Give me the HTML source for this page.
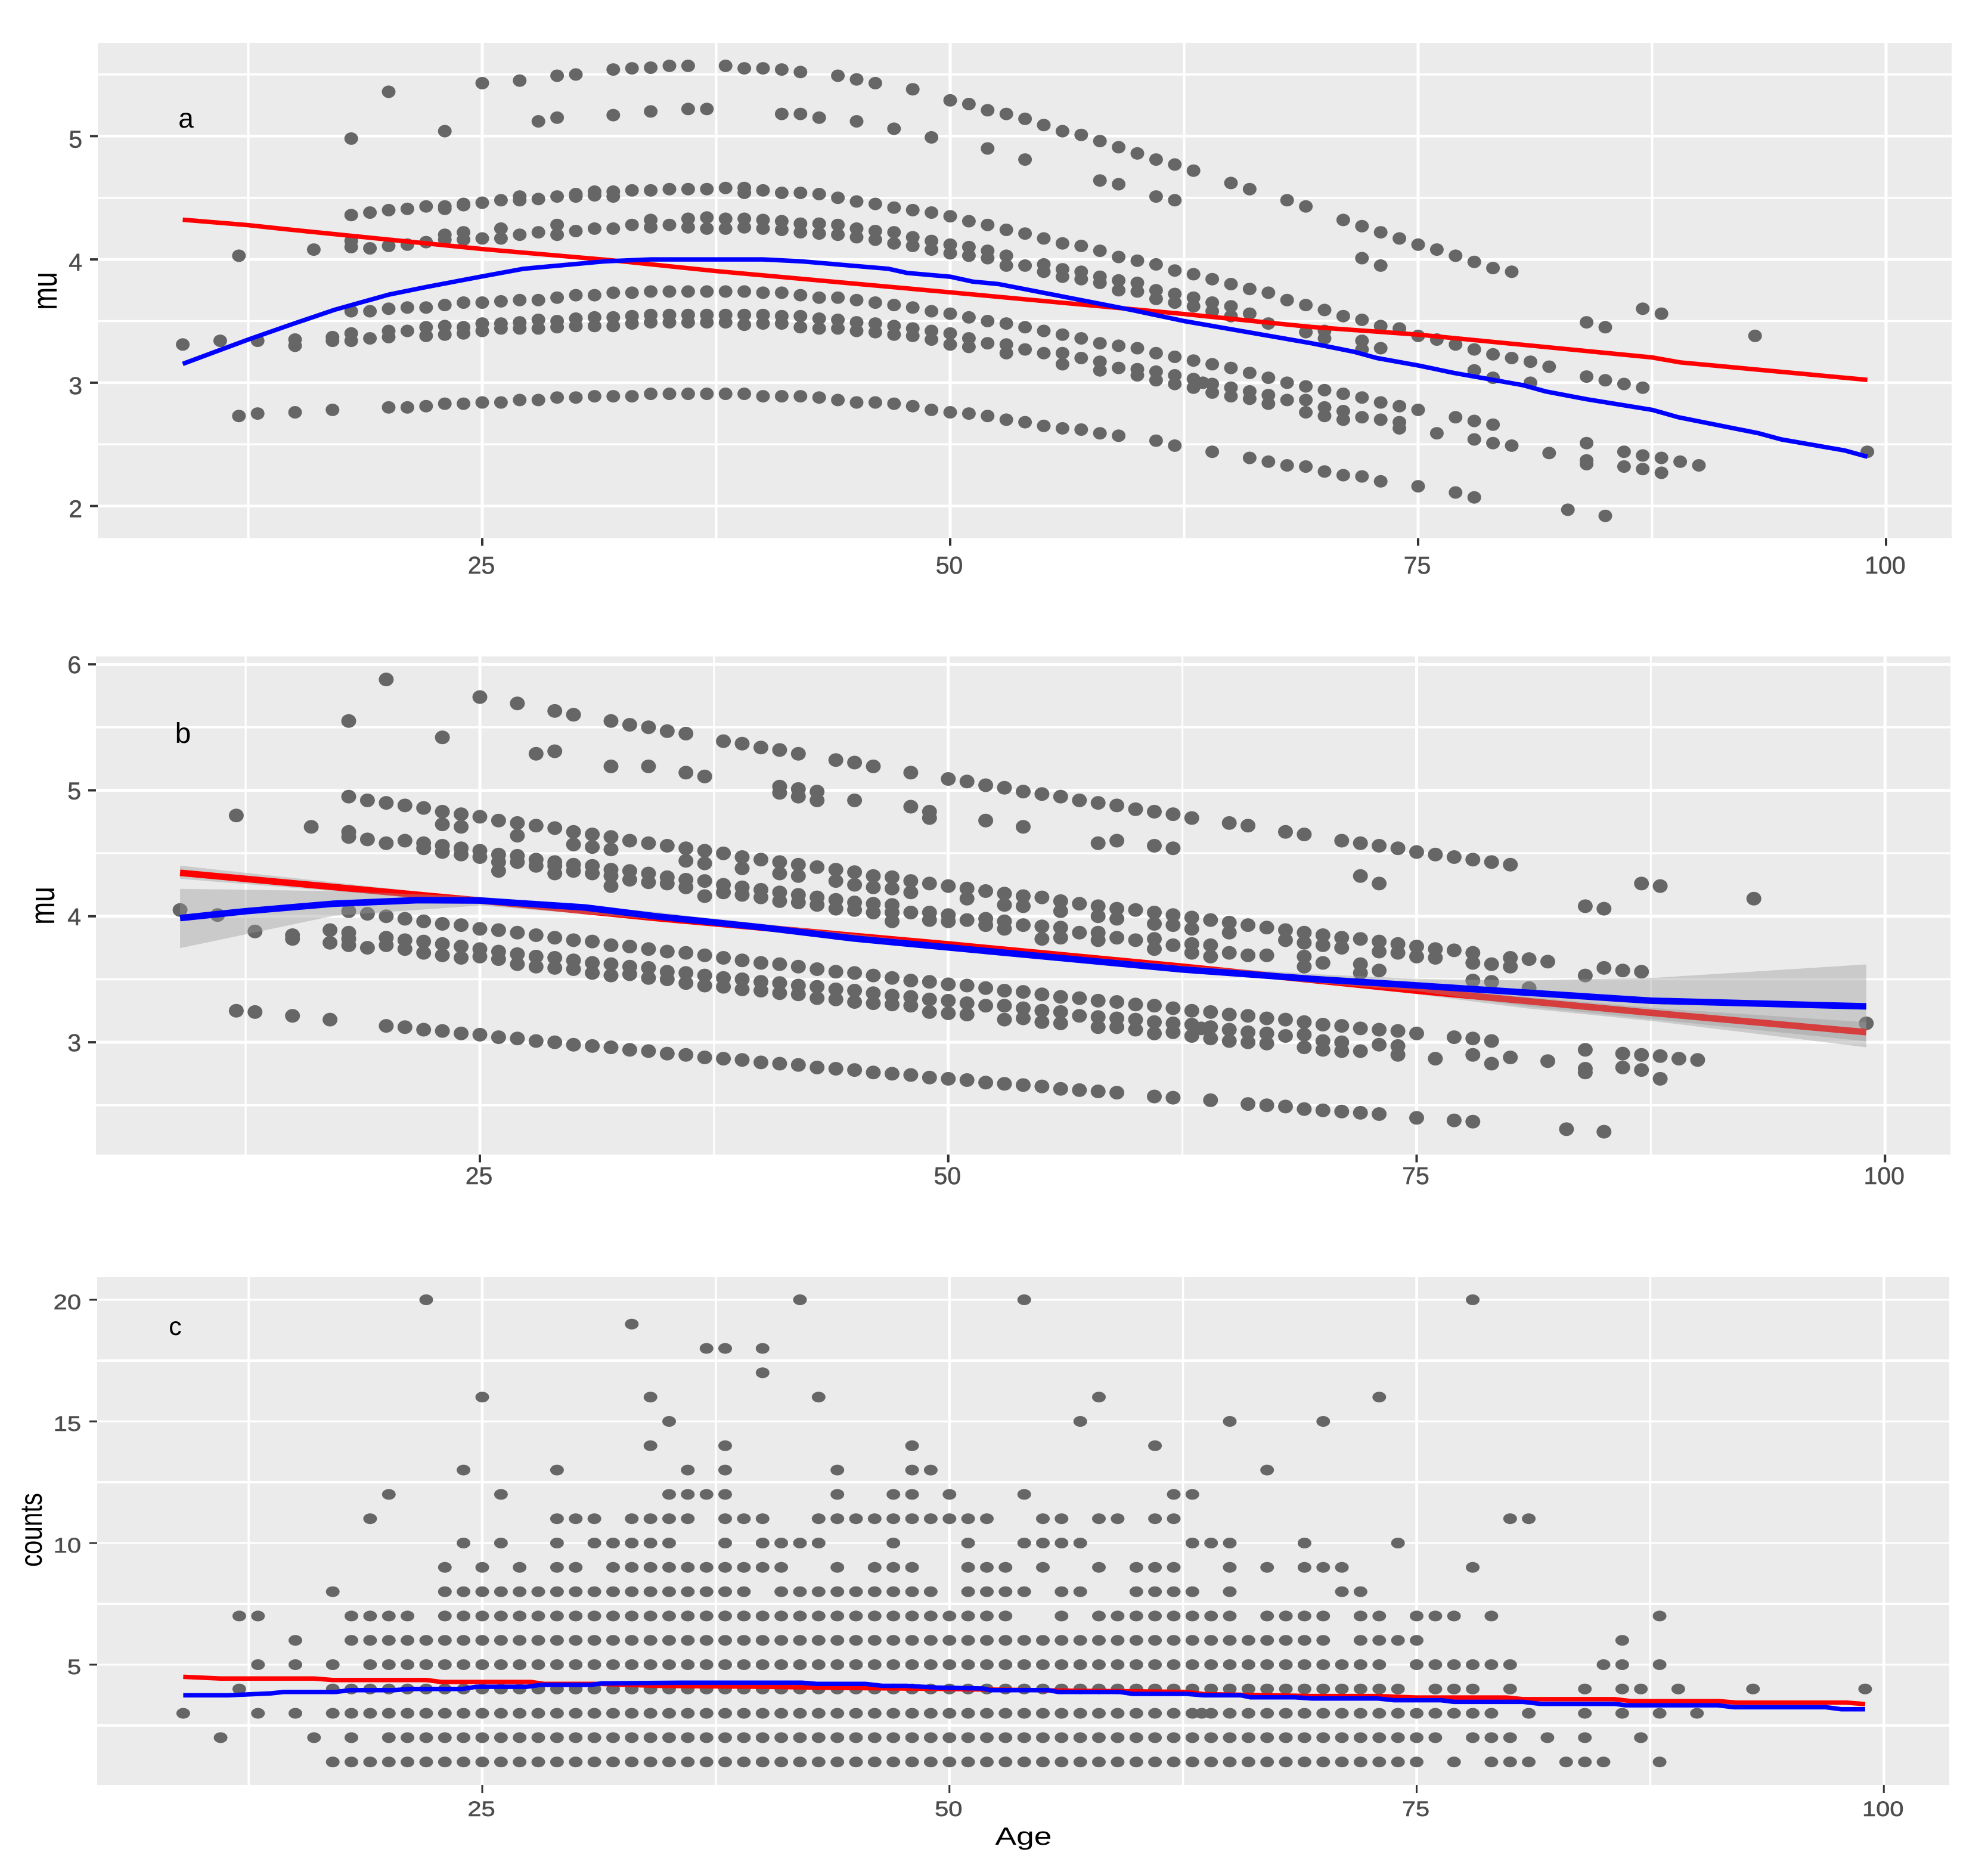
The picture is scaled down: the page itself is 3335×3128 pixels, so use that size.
<!DOCTYPE html>
<html lang="en">
<head>
<meta charset="utf-8">
<title>Age versus mu and counts, three panels</title>
<style>
html,body{margin:0;padding:0;background:#fff;}
svg{display:block;font-family:"Liberation Sans",sans-serif;}
</style>
</head>
<body>
<svg id="chart" xmlns="http://www.w3.org/2000/svg" width="3335" height="3128" viewBox="0 0 3335 3128">
  <rect x="0" y="0" width="3335" height="3128" fill="#ffffff"/>
  <g id="panel-a"></g>
  <g id="panel-b"></g>
  <g id="panel-c"></g>
  <text transform="translate(95,488) rotate(-90) scale(0.79,1)" text-anchor="middle" font-size="58" fill="#000">mu</text>
  <text transform="translate(91,1519) rotate(-90) scale(0.79,1)" text-anchor="middle" font-size="58" fill="#000">mu</text>
  <text transform="translate(70,2566) rotate(-90) scale(0.81,1)" text-anchor="middle" font-size="52" fill="#000">counts</text>
  <text transform="translate(1717,3094) scale(1.27,1)" text-anchor="middle" font-size="42" fill="#000">Age</text>
  <text x="312" y="214" text-anchor="middle" font-size="46" fill="#000">a</text>
  <text x="307" y="1246" text-anchor="middle" font-size="48" fill="#000">b</text>
  <text x="294" y="2239" text-anchor="middle" font-size="43" fill="#000">c</text>
</svg>
<script>
// ---------- shared axis values ----------
const xTickValues = [25, 50, 75, 100];
const xTickLabels = ["25", "50", "75", "100"];
const xMinorValues = [12.5, 37.5, 62.5, 87.5];

// ---------- panel a values ----------
const aYTicks = [5, 4, 3, 2];
const aYTickLabels = ["5", "4", "3", "2"];
const aYMinor = [5.5, 4.5, 3.5, 2.5];
const aBand1 = [[18,4.98],[20,5.36],[23,5.04],[25,5.43],[27,5.45],[28,5.12],[29,5.49],[29,5.15],[30,5.50],[32,5.54],[32,5.17],[33,5.55],[34,5.555],[34,5.20],[35,5.57],[36,5.57],[36,5.22],[37,5.22],[38,5.57],[39,5.55],[40,5.55],[41,5.54],[41,5.18],[42,5.52],[42,5.18],[43,5.15],[44,5.49],[45,5.46],[45,5.12],[46,5.43],[47,5.06],[48,5.38],[49,4.99],[50,5.29],[51,5.26],[52,5.21],[52,4.90],[53,5.18],[54,5.14],[54,4.81],[55,5.09],[56,5.04],[57,5.01],[58,4.96],[58,4.64],[59,4.91],[59,4.61],[60,4.86],[61,4.81],[61,4.51],[62,4.77],[62,4.48],[63,4.72],[65,4.62],[66,4.57],[68,4.48],[69,4.43],[71,4.32],[72,4.27],[72,4.01],[73,4.22],[73,3.95],[74,4.17],[75,4.12],[76,4.08],[77,4.03],[78,3.98],[79,3.93],[80,3.90]];
const aBand2 = [[18,4.36],[19,4.38],[20,4.40],[21,4.41],[22,4.43],[23,4.43],[23,4.41],[24,4.44],[24,4.45],[25,4.46],[26,4.48],[27,4.51],[27,4.48],[28,4.49],[29,4.51],[30,4.53],[30,4.51],[31,4.55],[31,4.52],[32,4.55],[32,4.51],[33,4.56],[34,4.56],[35,4.57],[36,4.57],[37,4.57],[38,4.58],[39,4.58],[39,4.54],[40,4.56],[41,4.54],[42,4.54],[43,4.53],[44,4.50],[45,4.47],[46,4.45],[47,4.42],[48,4.40],[49,4.38],[50,4.35],[51,4.31],[52,4.28],[53,4.24],[54,4.21],[55,4.17],[56,4.13],[57,4.11],[58,4.07],[59,4.02],[60,3.99],[61,3.96],[62,3.91],[63,3.88],[64,3.84],[65,3.80],[66,3.76],[67,3.73],[68,3.67],[69,3.63],[70,3.59],[71,3.54],[72,3.51],[73,3.46],[74,3.44],[75,3.38],[76,3.35],[77,3.31],[78,3.27],[79,3.23],[80,3.20],[81,3.17],[82,3.13],[84,3.49],[85,3.45],[87,3.60],[88,3.56],[93,3.38],[84,3.05],[85,3.02],[86,2.99],[87,2.96]];
const aBand3 = [[12,4.03],[16,4.08],[18,4.15],[18,4.10],[19,4.09],[20,4.11],[21,4.12],[22,4.14],[23,4.20],[23,4.16],[24,4.22],[24,4.16],[25,4.17],[26,4.25],[26,4.17],[27,4.20],[28,4.22],[29,4.28],[29,4.20],[30,4.23],[31,4.25],[32,4.25],[33,4.28],[34,4.32],[34,4.26],[35,4.28],[36,4.33],[36,4.26],[37,4.34],[37,4.25],[38,4.33],[38,4.25],[39,4.33],[39,4.26],[40,4.32],[40,4.25],[41,4.31],[41,4.24],[42,4.29],[42,4.22],[43,4.29],[43,4.21],[44,4.28],[44,4.20],[45,4.25],[45,4.18],[46,4.23],[46,4.16],[47,4.22],[47,4.13],[48,4.18],[48,4.11],[49,4.15],[49,4.08],[50,4.12],[50,4.05],[51,4.10],[51,4.03],[52,4.07],[52,4.01],[53,4.03],[53,3.95],[54,3.95],[55,3.96],[55,3.90],[56,3.92],[56,3.86],[57,3.90],[57,3.84],[58,3.86],[58,3.81],[59,3.83],[59,3.75],[60,3.81],[60,3.74],[61,3.75],[61,3.68],[62,3.72],[62,3.65],[63,3.69],[63,3.62],[64,3.65],[64,3.58],[65,3.62],[65,3.54],[66,3.56],[67,3.48],[69,3.41],[70,3.42],[70,3.36],[72,3.34],[72,3.27],[73,3.28],[78,3.10],[79,3.04],[81,3.0]];
const aBand4 = [[18,3.58],[19,3.58],[20,3.60],[21,3.61],[22,3.61],[23,3.63],[24,3.65],[25,3.65],[26,3.66],[27,3.67],[28,3.67],[29,3.69],[30,3.71],[31,3.71],[32,3.73],[33,3.73],[34,3.74],[35,3.74],[36,3.74],[37,3.74],[38,3.74],[39,3.74],[40,3.73],[41,3.73],[42,3.71],[43,3.69],[44,3.69],[45,3.67],[46,3.65],[47,3.63],[48,3.61],[49,3.58],[50,3.56],[51,3.53],[52,3.50],[53,3.48],[54,3.45],[55,3.42],[56,3.39],[57,3.36],[58,3.32],[59,3.30],[60,3.28],[61,3.24],[62,3.21],[63,3.18],[64,3.15],[65,3.12],[66,3.08],[67,3.04],[68,3.0],[69,2.97],[70,2.94],[71,2.91],[72,2.88],[73,2.84],[74,2.81],[75,2.78]];
const aBand5 = [[9,3.31],[11,3.34],[13,3.34],[15,3.35],[15,3.30],[17,3.37],[17,3.34],[18,3.40],[18,3.34],[19,3.36],[20,3.42],[20,3.37],[21,3.42],[22,3.45],[22,3.38],[23,3.46],[23,3.39],[24,3.45],[24,3.40],[25,3.48],[25,3.42],[26,3.48],[26,3.44],[27,3.49],[27,3.44],[28,3.51],[28,3.44],[29,3.50],[29,3.45],[30,3.52],[30,3.46],[31,3.53],[31,3.46],[32,3.53],[32,3.46],[33,3.54],[33,3.48],[34,3.55],[34,3.49],[35,3.55],[35,3.49],[36,3.55],[36,3.49],[37,3.55],[37,3.49],[38,3.55],[38,3.49],[39,3.55],[39,3.47],[40,3.55],[40,3.48],[41,3.54],[41,3.48],[42,3.54],[42,3.45],[43,3.52],[43,3.44],[44,3.51],[44,3.44],[45,3.49],[45,3.42],[46,3.48],[46,3.41],[47,3.46],[47,3.39],[48,3.44],[48,3.38],[49,3.42],[49,3.35],[50,3.40],[50,3.31],[51,3.36],[51,3.29],[52,3.32],[53,3.31],[53,3.24],[54,3.27],[55,3.24],[56,3.24],[56,3.15],[57,3.20],[58,3.17],[58,3.10],[59,3.12],[60,3.11],[60,3.06],[61,3.09],[61,3.02],[62,3.06],[62,2.99],[63,3.03],[63,2.96],[63.5,3.0],[64,2.99],[64,2.92],[65,2.96],[65,2.89],[66,2.93],[66,2.87],[67,2.90],[67,2.83],[68,2.86],[69,2.86],[69,2.76],[70,2.80],[70,2.73],[71,2.77],[71,2.70],[72,2.72],[73,2.70],[74,2.68],[74,2.63],[76,2.59],[77,2.72],[78,2.69],[78,2.54],[79,2.66],[79,2.51],[80,2.49],[82,2.43],[84,2.51],[84,2.37],[84,2.34],[86,2.44],[86,2.32],[87,2.41],[87,2.30],[88,2.39],[88,2.27],[89,2.36],[90,2.33],[99,2.44]];
const aBand6 = [[12,2.73],[13,2.75],[15,2.76],[17,2.78],[20,2.80],[21,2.80],[22,2.81],[23,2.83],[24,2.83],[25,2.84],[26,2.84],[27,2.86],[28,2.86],[29,2.88],[30,2.88],[31,2.89],[32,2.89],[33,2.89],[34,2.91],[35,2.91],[36,2.91],[37,2.91],[38,2.91],[39,2.91],[40,2.89],[41,2.89],[42,2.89],[43,2.88],[44,2.86],[45,2.84],[46,2.84],[47,2.83],[48,2.81],[49,2.78],[50,2.76],[51,2.75],[52,2.73],[53,2.70],[54,2.68],[55,2.65],[56,2.63],[57,2.62],[58,2.59],[59,2.57],[61,2.53],[62,2.49],[64,2.44],[66,2.39],[67,2.36],[68,2.33],[69,2.32],[70,2.28],[71,2.25],[72,2.24],[73,2.20],[75,2.16],[77,2.11],[78,2.07],[83,1.97],[85,1.92]];
const aRedAges = [9,12.5,14.5,25,32,37.5,50,62.5,69.3,75,87.5,89,99];
const aRedValues = [4.322,4.278,4.245,4.084,3.992,3.905,3.733,3.557,3.452,3.39,3.205,3.165,3.023];
const aBlueAges = [9,12.5,15,15.9,17.1,20,22,25,27.2,31.6,34,40,42,46.7,47.7,50,51.2,52.6,55.5,59.7,62.5,69.3,71.6,72.8,75,76.9,80.6,81.8,84,87.5,88.9,93.2,94.4,97.8,99];
const aBlueValues = [3.153,3.35,3.483,3.529,3.591,3.714,3.776,3.862,3.924,3.985,4.0,4.0,3.985,3.924,3.89,3.86,3.82,3.80,3.714,3.59,3.5,3.32,3.25,3.2,3.14,3.08,2.98,2.93,2.866,2.78,2.72,2.59,2.54,2.45,2.40];

// ---------- panel b values ----------
const bYTicks = [6, 5, 4, 3];
const bYTickLabels = ["6", "5", "4", "3"];
const bYMinor = [5.5, 4.5, 3.5, 2.5];
const bBand1 = [[18,5.55],[20,5.88],[23,5.42],[25,5.74],[27,5.69],[28,5.29],[29,5.63],[29,5.31],[30,5.60],[32,5.55],[32,5.19],[33,5.52],[34,5.50],[34,5.19],[35,5.47],[36,5.45],[36,5.14],[37,5.11],[38,5.39],[39,5.37],[40,5.34],[41,5.32],[41,5.03],[41,4.98],[42,5.29],[42,5.01],[42,4.95],[43,4.99],[43,4.92],[44,5.24],[45,5.22],[45,4.92],[46,5.19],[48,5.14],[48,4.87],[49,4.83],[49,4.78],[50,5.09],[51,5.07],[52,5.04],[52,4.76],[53,5.02],[54,4.99],[54,4.71],[55,4.97],[56,4.95],[57,4.92],[58,4.90],[58,4.58],[59,4.88],[59,4.60],[60,4.85],[61,4.83],[61,4.56],[62,4.81],[62,4.54],[63,4.78],[65,4.74],[66,4.72],[68,4.67],[69,4.65],[71,4.60],[72,4.58],[72,4.32],[73,4.56],[73,4.26],[74,4.54],[75,4.51],[76,4.49],[77,4.47],[78,4.45],[79,4.43],[80,4.41],[84,4.08],[85,4.06],[87,4.26],[88,4.24],[93,4.14]];
const bBand2 = [[18,4.95],[19,4.92],[20,4.90],[21,4.88],[22,4.86],[23,4.83],[23,4.73],[24,4.81],[24,4.71],[25,4.79],[26,4.76],[27,4.74],[27,4.64],[28,4.72],[29,4.70],[30,4.67],[30,4.57],[31,4.65],[31,4.55],[32,4.63],[32,4.53],[33,4.60],[34,4.58],[35,4.56],[36,4.54],[36,4.44],[37,4.52],[37,4.42],[38,4.50],[39,4.47],[39,4.38],[40,4.45],[41,4.43],[41,4.34],[42,4.41],[42,4.32],[43,4.39],[44,4.37],[44,4.28],[45,4.35],[45,4.25],[46,4.32],[46,4.23],[47,4.31],[47,4.22],[48,4.28],[48,4.19],[49,4.26],[50,4.24],[51,4.22],[51,4.14],[52,4.20],[53,4.18],[53,4.09],[54,4.16],[54,4.08],[55,4.15],[56,4.12],[56,4.04],[57,4.10],[58,4.08],[58,4.0],[59,4.06],[59,3.98],[60,4.05],[61,4.03],[61,3.94],[62,4.01],[62,3.93],[63,3.99],[63,3.90],[64,3.97],[65,3.95],[65,3.87],[66,3.93],[67,3.91],[68,3.89],[68,3.81],[69,3.87],[69,3.79],[70,3.85],[70,3.77],[71,3.83],[71,3.75],[72,3.82],[73,3.80],[73,3.72],[74,3.78],[74,3.71],[75,3.76],[75,3.68],[76,3.74],[76,3.67],[77,3.73],[78,3.71],[78,3.63],[79,3.62],[80,3.67],[80,3.60],[81,3.66],[82,3.64],[84,3.53],[85,3.59],[86,3.57],[87,3.56]];
const bBand3 = [[12,4.80],[16,4.71],[18,4.67],[18,4.63],[19,4.61],[20,4.58],[21,4.60],[22,4.58],[22,4.54],[23,4.56],[23,4.51],[24,4.54],[24,4.49],[25,4.52],[25,4.47],[26,4.49],[26,4.43],[26,4.36],[27,4.48],[27,4.43],[28,4.45],[28,4.40],[29,4.43],[29,4.40],[29,4.34],[30,4.41],[30,4.36],[31,4.40],[31,4.34],[32,4.37],[32,4.32],[32,4.24],[33,4.36],[33,4.29],[34,4.34],[34,4.27],[35,4.31],[35,4.26],[36,4.29],[36,4.23],[37,4.28],[37,4.16],[38,4.25],[38,4.19],[39,4.23],[39,4.17],[40,4.21],[40,4.15],[41,4.19],[41,4.12],[42,4.17],[42,4.11],[43,4.15],[43,4.09],[44,4.13],[44,4.06],[45,4.11],[45,4.05],[46,4.10],[46,4.03],[47,4.09],[47,4.03],[47,3.96],[48,4.03],[49,4.03],[49,3.97],[50,4.01],[50,3.96],[51,3.97],[52,3.98],[52,3.93],[53,3.96],[53,3.90],[54,3.93],[55,3.92],[55,3.82],[56,3.91],[56,3.83],[57,3.87],[58,3.87],[58,3.81],[59,3.83],[60,3.81],[61,3.82],[61,3.74],[62,3.77],[63,3.78],[63,3.71],[64,3.77],[64,3.68],[65,3.71],[66,3.69],[67,3.69],[69,3.68],[69,3.60],[70,3.63],[72,3.62],[72,3.55],[73,3.57],[78,3.49],[79,3.48],[81,3.43]];
const bBand4 = [[18,4.04],[19,4.02],[20,4.0],[21,3.98],[22,3.96],[23,3.94],[24,3.93],[25,3.90],[26,3.89],[27,3.87],[28,3.85],[29,3.83],[30,3.81],[31,3.80],[32,3.77],[33,3.76],[34,3.74],[35,3.72],[36,3.71],[37,3.69],[38,3.67],[39,3.65],[40,3.63],[41,3.62],[42,3.60],[43,3.58],[44,3.56],[45,3.55],[46,3.53],[47,3.51],[48,3.49],[49,3.48],[50,3.46],[51,3.45],[52,3.43],[53,3.41],[54,3.40],[55,3.38],[56,3.36],[57,3.35],[58,3.33],[59,3.32],[60,3.30],[61,3.29],[62,3.27],[63,3.25],[64,3.24],[65,3.22],[66,3.21],[67,3.19],[68,3.18],[69,3.16],[70,3.14],[71,3.13],[72,3.11],[73,3.10],[74,3.09],[75,3.07],[77,3.04],[78,3.03],[79,3.01]];
const bBand5 = [[9,4.05],[11,4.01],[13,3.88],[15,3.85],[15,3.82],[17,3.89],[17,3.79],[18,3.87],[18,3.82],[18,3.77],[19,3.75],[20,3.83],[20,3.77],[21,3.81],[21,3.74],[22,3.80],[22,3.71],[23,3.78],[23,3.69],[24,3.76],[24,3.67],[25,3.74],[25,3.68],[26,3.72],[26,3.66],[27,3.70],[27,3.62],[28,3.68],[28,3.60],[29,3.67],[29,3.59],[30,3.65],[30,3.58],[31,3.63],[31,3.55],[32,3.62],[32,3.53],[33,3.60],[33,3.54],[34,3.59],[34,3.51],[35,3.56],[35,3.50],[36,3.55],[36,3.47],[37,3.53],[37,3.45],[38,3.51],[38,3.44],[39,3.50],[39,3.42],[40,3.48],[40,3.41],[41,3.47],[41,3.39],[42,3.45],[42,3.38],[43,3.44],[43,3.35],[44,3.42],[44,3.34],[45,3.41],[45,3.32],[46,3.39],[46,3.31],[47,3.37],[47,3.30],[48,3.36],[48,3.29],[49,3.34],[49,3.24],[50,3.33],[50,3.23],[51,3.31],[51,3.22],[52,3.29],[53,3.29],[53,3.18],[54,3.27],[54,3.19],[55,3.25],[55,3.16],[56,3.24],[56,3.15],[57,3.21],[58,3.20],[58,3.12],[59,3.19],[59,3.12],[60,3.18],[60,3.10],[61,3.16],[61,3.07],[62,3.15],[62,3.08],[63,3.14],[63,3.05],[63.5,3.11],[64,3.12],[64,3.03],[65,3.10],[65,3.01],[66,3.08],[66,3.0],[67,3.07],[67,2.99],[68,3.05],[69,3.06],[69,2.96],[70,3.01],[70,2.94],[71,3.0],[71,2.93],[72,2.93],[73,2.98],[74,2.97],[74,2.90],[76,2.87],[78,2.90],[79,2.83],[80,2.88],[82,2.85],[84,2.94],[84,2.79],[84,2.76],[86,2.91],[86,2.80],[87,2.90],[87,2.78],[88,2.89],[88,2.71],[89,2.87],[90,2.86],[99,3.15]];
const bBand6 = [[12,3.25],[13,3.24],[15,3.21],[17,3.18],[20,3.13],[21,3.12],[22,3.10],[23,3.09],[24,3.07],[25,3.06],[26,3.04],[27,3.03],[28,3.01],[29,3.0],[30,2.98],[31,2.97],[32,2.96],[33,2.94],[34,2.93],[35,2.91],[36,2.90],[37,2.88],[38,2.87],[39,2.86],[40,2.84],[41,2.83],[42,2.82],[43,2.80],[44,2.79],[45,2.78],[46,2.76],[47,2.75],[48,2.74],[49,2.72],[50,2.71],[51,2.70],[52,2.68],[53,2.67],[54,2.66],[55,2.65],[56,2.63],[57,2.62],[58,2.61],[59,2.60],[61,2.57],[62,2.56],[64,2.54],[66,2.51],[67,2.50],[68,2.49],[69,2.47],[70,2.46],[71,2.45],[72,2.44],[73,2.43],[75,2.40],[77,2.38],[78,2.37],[83,2.31],[85,2.29]];
const bRedAges = [9,25,34.4,50,62.5,75,87.5,99];
const bRedValues = [4.345,4.125,3.986,3.777,3.6,3.41,3.234,3.08];
const bBlueAges = [9,12.5,17.2,21.7,25,30.6,34.4,40,45,50,62.5,69.4,75,87.5,99];
const bBlueValues = [3.986,4.04,4.10,4.128,4.125,4.07,4.0,3.913,3.823,3.753,3.578,3.503,3.451,3.33,3.285];
const bBlueBandAges = [9,17.2,25,34.4,50,62.5,69.4,75,80.8,87.8,99];
const bBlueBandUpper = [4.218,4.2,4.155,4.034,3.775,3.608,3.542,3.503,3.491,3.512,3.618];
const bBlueBandLower = [3.747,4.004,4.085,3.974,3.738,3.557,3.473,3.406,3.286,3.18,3.008];
const bRedBandAges = [9,25,50,62.5,75,80.8,87.8,99];
const bRedBandUpper = [4.402,4.143,3.793,3.612,3.436,3.361,3.27,3.159];
const bRedBandLower = [4.297,4.107,3.759,3.581,3.382,3.27,3.165,2.96];

// ---------- panel c values ----------
const cYTicks = [20, 15, 10, 5];
const cYTickLabels = ["20", "15", "10", "5"];
const cYMinor = [17.5, 12.5, 7.5, 2.5];
const cCountLevels = [1,2,3,4,5,6,7,8,9,10,11,12,13,14,15,16,17,18,19,20];
const cAgesAtCount1 = [17,18,19,20,21,22,23,24,25,26,27,28,29,30,31,32,33,34,35,36,37,38,39,40,41,42,43,44,45,46,47,48,49,50,51,52,53,54,55,56,57,58,59,60,61,62,63,64,65,66,67,68,69,70,71,72,73,74,75,77,79,80,81,83,84,85,88];
const cAgesAtCount2 = [11,16,18,20,21,22,23,24,25,26,27,28,29,30,31,32,33,34,35,36,37,38,39,40,41,42,43,44,45,46,47,48,49,50,51,52,53,54,55,56,57,58,59,60,61,62,63,64,65,66,67,68,69,70,71,72,73,74,75,76,78,79,80,82,84,87];
const cAgesAtCount3 = [9,13,15,17,18,19,20,21,22,23,24,25,26,27,28,29,30,31,32,33,34,35,36,37,38,39,40,41,42,43,44,45,46,47,48,49,50,51,52,53,54,55,56,57,58,59,60,61,62,63,63.5,64,65,66,67,68,69,70,71,72,73,74,75,76,77,78,79,81,84,86,88,90];
const cAgesAtCount4 = [12,17,18,19,20,21,22,23,24,25,26,27,28,29,30,31,32,33,34,35,36,37,38,39,40,41,42,43,44,45,46,47,48,49,50,51,52,53,54,55,56,57,58,59,60,61,62,63,64,65,66,67,68,69,70,71,72,73,74,76,77,78,80,84,86,87,89,93,99];
const cAgesAtCount5 = [13,15,17,19,20,21,22,23,24,25,26,27,28,29,30,31,32,33,34,35,36,37,38,39,40,41,42,43,44,45,46,47,48,49,50,51,52,53,54,55,56,57,58,59,60,61,62,63,64,65,66,67,68,69,70,71,72,73,75,76,77,78,79,80,85,86,88];
const cAgesAtCount6 = [15,18,19,20,21,22,23,24,25,26,27,28,29,30,31,32,33,34,35,36,37,38,39,40,41,42,43,44,45,46,47,48,49,50,51,52,53,54,55,56,57,58,59,60,61,62,63,64,65,66,67,68,69,70,72,73,74,75,86];
const cAgesAtCount7 = [12,13,18,19,20,21,23,24,25,26,27,28,29,30,31,32,33,34,35,36,37,38,39,40,41,42,43,44,45,46,47,48,49,50,51,52,53,56,58,59,60,61,62,63,64,65,67,68,69,70,72,73,75,76,77,79,88];
const cAgesAtCount8 = [17,23,24,25,26,27,28,29,30,31,32,33,34,35,36,37,38,39,41,42,43,44,45,46,47,48,49,51,52,53,54,56,57,60,61,62,63,65,71,72];
const cAgesAtCount9 = [23,25,27,29,30,32,33,34,35,36,37,38,39,40,41,44,46,47,48,51,52,53,55,58,60,61,62,65,67,69,70,71,78];
const cAgesAtCount10 = [24,26,29,31,32,33,34,35,38,40,41,42,43,47,51,54,55,56,57,63,64,65,69,74];
const cAgesAtCount11 = [19,29,30,31,33,34,35,36,38,39,40,43,44,45,46,47,48,49,50,51,52,55,56,58,59,61,62,80,81];
const cAgesAtCount12 = [20,26,35,36,37,38,44,47,48,50,54,62,63];
const cAgesAtCount13 = [24,29,36,38,44,48,49,67];
const cAgesAtCount14 = [34,38,48,61];
const cAgesAtCount15 = [35,57,65,70];
const cAgesAtCount16 = [25,34,43,58,73];
const cAgesAtCount17 = [40];
const cAgesAtCount18 = [37,38,40];
const cAgesAtCount19 = [33];
const cAgesAtCount20 = [22,42,54,78];
const cRedAges = [9,11,16,17,22,22.8,27.6,28.3,31.2,34.3,39.9,45,50,56.7,62.7,63.6,69.4,72.9,75,79.8,80.7,85.6,86.5,91.2,92.1,98,99];
const cRedValues = [4.5,4.43,4.43,4.37,4.37,4.29,4.29,4.21,4.21,4.13,4.09,4.04,4.0,3.93,3.88,3.79,3.71,3.71,3.65,3.65,3.58,3.58,3.5,3.5,3.44,3.44,3.38];
const cBlueAges = [9,11.4,13.7,14.4,17.2,17.9,20.3,21.1,23.9,24.7,27.4,28.1,30.8,31.4,35.9,42.1,42.9,45.5,46.4,47.7,49.3,51.8,52.2,55.3,55.8,59.1,59.8,62.7,63.6,65.6,66.1,68.5,69.4,72.9,73.8,76.3,77,80.7,81.6,85.6,86.2,91.1,92,96.9,97.7,99];
const cBlueValues = [3.74,3.74,3.82,3.88,3.88,3.95,3.95,4.0,4.0,4.09,4.09,4.17,4.17,4.23,4.26,4.26,4.21,4.21,4.13,4.13,4.06,4.02,3.95,3.95,3.88,3.88,3.80,3.80,3.74,3.74,3.66,3.66,3.61,3.61,3.54,3.54,3.47,3.47,3.39,3.39,3.33,3.33,3.25,3.25,3.17,3.17];

// ---------- drawing ----------
const SVG_NS = "http://www.w3.org/2000/svg";
function make(parent, tag, attrs) {
  const el = document.createElementNS(SVG_NS, tag);
  for (const k in attrs) el.setAttribute(k, attrs[k]);
  parent.appendChild(el);
  return el;
}
function linePath(ages, values, xFn, yFn) {
  return ages.map((a, i) => (i ? "L" : "M") + xFn(a).toFixed(1) + " " + yFn(values[i]).toFixed(1)).join(" ");
}
function ribbonPath(ages, upper, lower, xFn, yFn) {
  const top = ages.map((a, i) => (i ? "L" : "M") + xFn(a).toFixed(1) + " " + yFn(upper[i]).toFixed(1)).join(" ");
  let bottom = "";
  for (let i = ages.length - 1; i >= 0; i--) bottom += " L" + xFn(ages[i]).toFixed(1) + " " + yFn(lower[i]).toFixed(1);
  return top + bottom + " Z";
}
function drawFrame(g, f) {
  const bg = make(g, "rect", {x: f.left, y: f.top, width: f.right - f.left, height: f.bottom - f.top, fill: "#EBEBEB"});
  
  
  f.yMinor.forEach(v => {
    const l = make(g, "line", {x1: f.left, x2: f.right, y1: f.y(v), y2: f.y(v), stroke: "#fff", "stroke-width": f.gridH[1]});
    
    
  });
  f.yTicks.forEach(v => {
    const l = make(g, "line", {x1: f.left, x2: f.right, y1: f.y(v), y2: f.y(v), stroke: "#fff", "stroke-width": f.gridH[0]});
    
    
  });
  xMinorValues.forEach(v => {
    const l = make(g, "line", {x1: f.x(v), x2: f.x(v), y1: f.top, y2: f.bottom, stroke: "#fff", "stroke-width": f.gridV[1]});
    
    
  });
  xTickValues.forEach(v => {
    const l = make(g, "line", {x1: f.x(v), x2: f.x(v), y1: f.top, y2: f.bottom, stroke: "#fff", "stroke-width": f.gridV[0]});
    
    
  });
}
function drawAxes(g, f) {
  f.yTicks.forEach((v, i) => {
    const t = make(g, "line", {x1: f.left - 13, x2: f.left, y1: f.y(v), y2: f.y(v), stroke: "#333", "stroke-width": f.tickW});
    
    
    const lab = make(g, "text", {transform: "translate(" + f.yLabelX + "," + (f.y(v) + f.yBase) + ") scale(" + f.textSX + ",1)", "text-anchor": "end", "font-size": f.fontSize, fill: "#4D4D4D", stroke: "#4D4D4D", "stroke-width": 0.6});
    
    
    lab.textContent = f.yLabels[i];
  });
  xTickValues.forEach((v, i) => {
    const t = make(g, "line", {x1: f.x(v), x2: f.x(v), y1: f.bottom, y2: f.bottom + 13, stroke: "#333", "stroke-width": f.tickW});
    
    
    const lab = make(g, "text", {transform: "translate(" + (f.x(v) - 1.5) + "," + f.xBase + ") scale(" + f.textSX + ",1)", "text-anchor": "middle", "font-size": f.fontSize, fill: "#4D4D4D", stroke: "#4D4D4D", "stroke-width": 0.6});
    
    
    lab.textContent = xTickLabels[i];
  });
}
function drawBand(g, band, f) {
  band.forEach(p => {
    const c = make(g, "ellipse", {cx: f.x(p[0]).toFixed(1), cy: f.y(p[1]).toFixed(1), rx: f.rx, ry: f.ry, fill: "#666666"});
    
    
  });
}
function drawLine(g, ages, values, f, color, width, name) {
  const p = make(g, "path", {d: linePath(ages, values, f.x, f.y), fill: "none", stroke: color, "stroke-width": width, "stroke-linejoin": "round"});
  
  
}

// panel a
const frameA = {
  left: 164, right: 3274, top: 72, bottom: 902.4,
  x: a => 809 + (a - 25) * 31.4,
  y: v => 228.3 + (5 - v) * 206.8,
  yTicks: aYTicks, yLabels: aYTickLabels, yMinor: aYMinor,
  gridH: [4.5, 3.5], gridV: [5, 4], tickW: 4,
  fontSize: 41, textSX: 1, yLabelX: 138, yBase: 19, xBase: 962,
  rx: 11.5, ry: 10.5
};
const gA = document.getElementById("panel-a");
drawFrame(gA, frameA);
[aBand1, aBand2, aBand3, aBand4, aBand5, aBand6].forEach(b => drawBand(gA, b, frameA));
drawLine(gA, aRedAges, aRedValues, frameA, "#FF0000", 7.5, "panel-a-red-fit-line");
drawLine(gA, aBlueAges, aBlueValues, frameA, "#0000FF", 7.5, "panel-a-blue-fit-line");
drawAxes(gA, frameA);

// panel b
const frameB = {
  left: 161, right: 3272, top: 1101, bottom: 1936.5,
  x: a => 805 + (a - 25) * 31.43,
  y: v => 1325.5 + (5 - v) * 211.3,
  yTicks: bYTicks, yLabels: bYTickLabels, yMinor: bYMinor,
  gridH: [5, 3.5], gridV: [5, 3], tickW: 4,
  fontSize: 41, textSX: 1, yLabelX: 136, yBase: 15, xBase: 1986,
  rx: 12.5, ry: 11.5
};
const gB = document.getElementById("panel-b");
drawFrame(gB, frameB);
[bBand1, bBand2, bBand3, bBand4, bBand5, bBand6].forEach(b => drawBand(gB, b, frameB));
const redRibbon = make(gB, "path", {d: ribbonPath(bRedBandAges, bRedBandUpper, bRedBandLower, frameB.x, frameB.y), fill: "#999999", "fill-opacity": 0.4});


drawLine(gB, bRedAges, bRedValues, frameB, "#FF0000", 11, "panel-b-red-fit-line");
const blueRibbon = make(gB, "path", {d: ribbonPath(bBlueBandAges, bBlueBandUpper, bBlueBandLower, frameB.x, frameB.y), fill: "#999999", "fill-opacity": 0.4});


drawLine(gB, bBlueAges, bBlueValues, frameB, "#0000FF", 11, "panel-b-blue-fit-line");
drawAxes(gB, frameB);

// panel c
const frameC = {
  left: 163, right: 3270, top: 2142, bottom: 2994,
  x: a => 809 + (a - 25) * 31.35,
  y: v => 2180 + (20 - v) * 40.8,
  yTicks: cYTicks, yLabels: cYTickLabels, yMinor: cYMinor,
  gridH: [3, 4], gridV: [4.5, 3.5], tickW: 3,
  fontSize: 35, textSX: 1.19, yLabelX: 136, yBase: 16, xBase: 3046,
  rx: 11.5, ry: 9
};
const gC = document.getElementById("panel-c");
drawFrame(gC, frameC);
const cAgesByCount = [cAgesAtCount1, cAgesAtCount2, cAgesAtCount3, cAgesAtCount4, cAgesAtCount5, cAgesAtCount6, cAgesAtCount7, cAgesAtCount8, cAgesAtCount9, cAgesAtCount10, cAgesAtCount11, cAgesAtCount12, cAgesAtCount13, cAgesAtCount14, cAgesAtCount15, cAgesAtCount16, cAgesAtCount17, cAgesAtCount18, cAgesAtCount19, cAgesAtCount20];
cCountLevels.forEach((count, i) => {
  drawBand(gC, cAgesByCount[i].map(a => [a, count]), frameC);
});
drawLine(gC, cRedAges, cRedValues, frameC, "#FF0000", 7.5, "panel-c-red-fit-line");
drawLine(gC, cBlueAges, cBlueValues, frameC, "#0000FF", 7.5, "panel-c-blue-fit-line");
drawAxes(gC, frameC);
</script>
</body>
</html>
